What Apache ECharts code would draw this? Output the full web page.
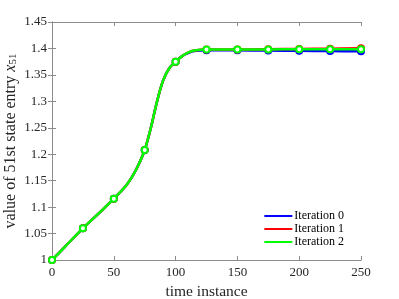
<!DOCTYPE html>
<html><head><meta charset="utf-8">
<script src="https://cdn.jsdelivr.net/npm/echarts@6/dist/echarts.min.js"></script>
<style>html,body{margin:0;padding:0;background:#fff}#c{width:399px;height:299px}</style>
</head><body><div id="c"></div>
<script>
var times  = [0, 10, 25, 40, 50, 60, 65, 70, 75, 80, 85, 90, 95, 100, 105, 110, 115, 125, 150, 175, 200, 225, 250];
var iter0  = [1.000, 1.024, 1.060, 1.093, 1.116, 1.141, 1.158, 1.180, 1.208, 1.250, 1.300, 1.340, 1.363, 1.375, 1.385, 1.391, 1.395, 1.3965, 1.3965, 1.396, 1.3955, 1.395, 1.3945];
var iter1  = [1.000, 1.024, 1.060, 1.093, 1.116, 1.141, 1.158, 1.180, 1.208, 1.250, 1.300, 1.340, 1.363, 1.375, 1.385, 1.392, 1.396, 1.398, 1.398, 1.3985, 1.399, 1.3995, 1.4005];
var iter2  = [1.000, 1.024, 1.060, 1.093, 1.116, 1.141, 1.158, 1.180, 1.208, 1.250, 1.300, 1.340, 1.363, 1.375, 1.385, 1.392, 1.396, 1.398, 1.398, 1.398, 1.3985, 1.3985, 1.3985];
var seriesNames = ['Iteration 0', 'Iteration 1', 'Iteration 2'];
var xTicks = [0, 50, 100, 150, 200, 250];
var yTicks = [1, 1.05, 1.1, 1.15, 1.2, 1.25, 1.3, 1.35, 1.4, 1.45];

var colors = ['#0000ff', '#ff0000', '#00ff00'];
var font = 'Liberation Serif';
function build(vals) {
  return times.map(function (t, i) {
    var item = { value: [t, vals[i]] };
    if (t % 25 !== 0) item.symbol = 'none';
    return item;
  });
}
var allSeries = [iter0, iter1, iter2].map(function (vals, k) {
  return {
    name: seriesNames[k], type: 'line', data: build(vals),
    smooth: 0.35,
    symbol: 'emptyCircle', symbolSize: 6, showAllSymbol: true,
    lineStyle: { color: colors[k], width: 2.5 },
    itemStyle: { color: colors[k], borderColor: colors[k], borderWidth: 2.5, opacity: 1 },
    z: 2 + k, animation: false
  };
});
var axisCol = '#8c8c8c';
var chart = echarts.init(document.getElementById('c'));
chart.setOption({
  animation: false,
  grid: { left: 52, right: 38, top: 22, bottom: 39, outerBoundsMode: 'none', containLabel: false },
  legend: {
    data: seriesNames.map(function (n) { return { name: n, icon: 'rect' }; }),
    orient: 'vertical', right: 50, top: 205, itemWidth: 28, itemHeight: 2, itemGap: 1,
    itemStyle: { borderWidth: 0 },
    textStyle: { fontFamily: font, fontSize: 12, color: '#000', padding: [0, 0, 0, -3] }
  },
  xAxis: [{
    type: 'value', min: 0, max: 250, interval: 50,
    name: 'time instance', nameLocation: 'middle', nameGap: 22,
    nameTextStyle: { fontFamily: font, fontSize: 15.5, color: '#262626' },
    axisLine: { lineStyle: { color: axisCol, width: 1 } },
    axisTick: { inside: true, length: 4, lineStyle: { color: axisCol } },
    axisLabel: { fontFamily: font, fontSize: 13, color: '#262626', margin: 6 },
    splitLine: { show: false }
  }, {
    type: 'value', min: 0, max: 250, interval: 50, position: 'top',
    axisLine: { lineStyle: { color: axisCol, width: 1 } },
    axisTick: { inside: true, length: 4, lineStyle: { color: axisCol } },
    axisLabel: { show: false }, splitLine: { show: false }
  }],
  yAxis: [{
    type: 'value', min: 1, max: 1.45, interval: 0.05,
    name: 'value of 51st state entry {i|x}{s|51}', nameLocation: 'middle', nameGap: 33,
    nameMoveOverlap: false,
    nameTextStyle: { fontFamily: font, fontSize: 16, color: '#262626',
      rich: { i: { fontFamily: font, fontStyle: 'italic', fontSize: 16, color: '#262626' },
              s: { fontFamily: font, fontSize: 11, color: '#262626', verticalAlign: 'bottom', lineHeight: 14 } } },
    axisLine: { lineStyle: { color: axisCol, width: 1 } },
    axisTick: { inside: true, length: 4, lineStyle: { color: axisCol } },
    axisLabel: { fontFamily: font, fontSize: 13, color: '#262626', margin: 5,
      formatter: function (v) { return String(parseFloat(v.toFixed(2))); } },
    splitLine: { show: false }
  }, {
    type: 'value', min: 1, max: 1.45, interval: 0.05, position: 'right',
    axisLine: { show: true, lineStyle: { color: axisCol, width: 1 } },
    axisTick: { show: true, inside: true, length: 4, lineStyle: { color: axisCol } },
    axisLabel: { show: false }, splitLine: { show: false }
  }],
  series: allSeries
});
</script></body></html>
